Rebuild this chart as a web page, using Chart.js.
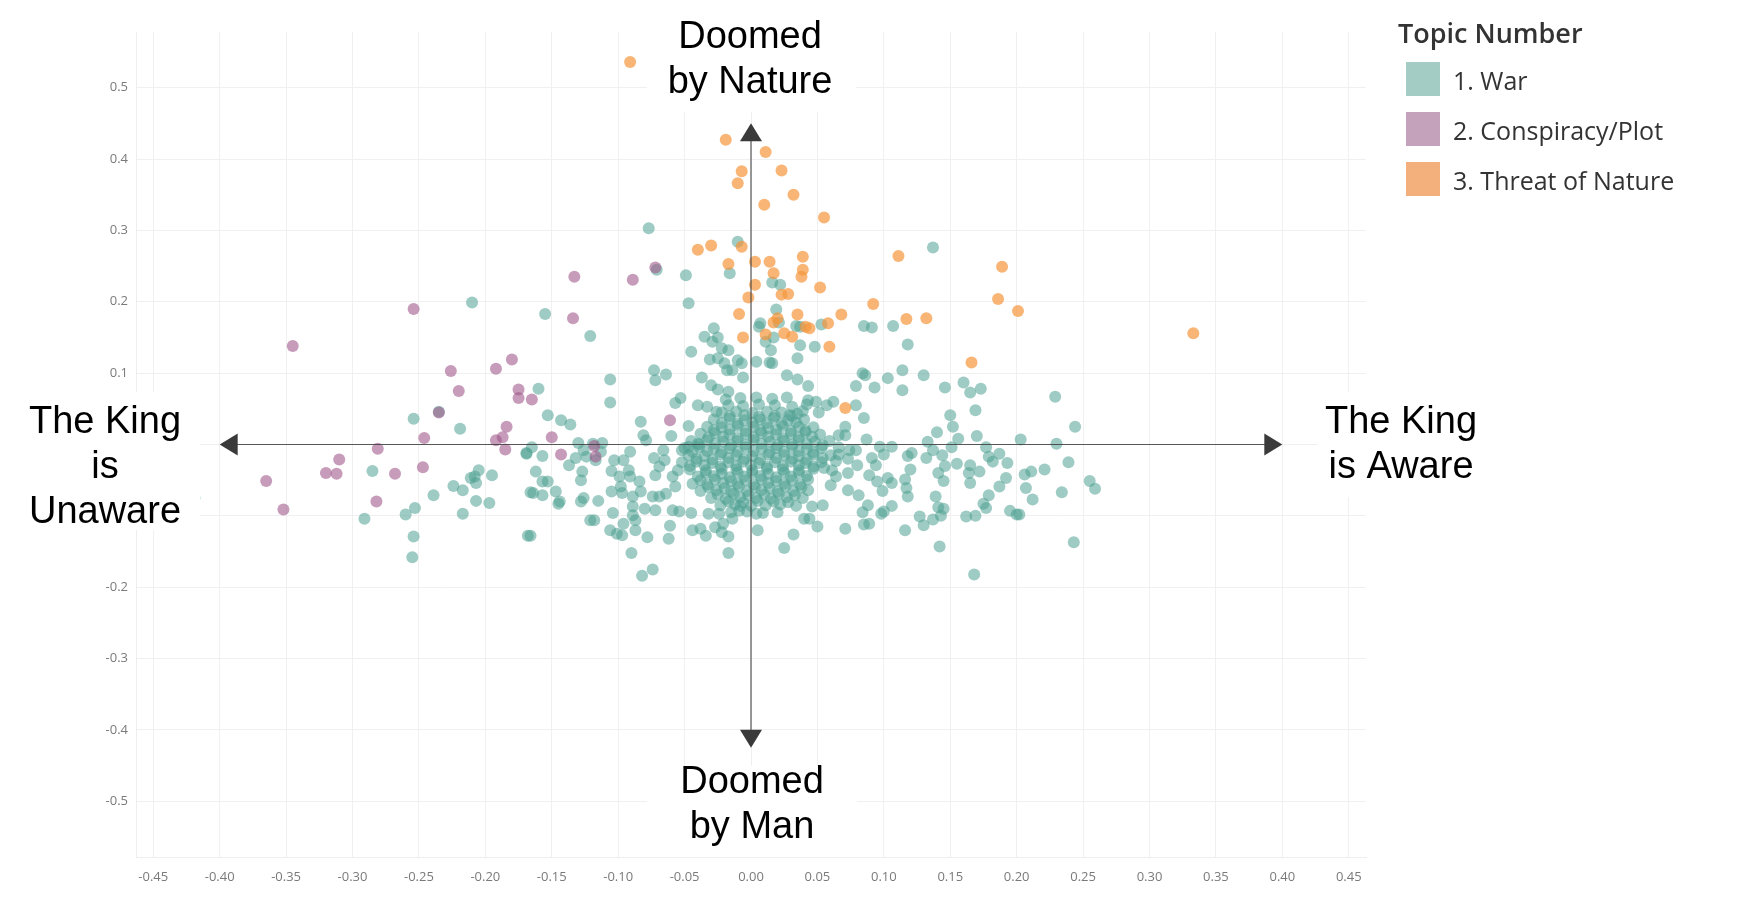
<!DOCTYPE html>
<html>
<head>
<meta charset="utf-8">
<script src="https://cdn.jsdelivr.net/npm/chart.js@4.4.1/dist/chart.umd.min.js"></script>
<style>
  html, body { margin: 0; padding: 0; background: #fff; }
  canvas { display: block; }
</style>
</head>
<body>
<canvas id="grafico" width="1739" height="906"></canvas>
<script>
const topics = ["1. War", "2. Conspiracy/Plot", "3. Threat of Nature"];
const legendTitle = "Topic Number";
const xTicks = [-0.45, -0.40, -0.35, -0.30, -0.25, -0.20, -0.15, -0.10, -0.05, 0, 0.05, 0.10, 0.15, 0.20, 0.25, 0.30, 0.35, 0.40, 0.45];
const yTicks = [-0.5, -0.4, -0.3, -0.2, -0.1, 0, 0.1, 0.2, 0.3, 0.4, 0.5];

// topic 1, outer points
const warPoints = [
  [-0.210,0.199],[-0.254,0.036],[-0.235,0.046],[-0.219,0.022],[-0.419,-0.075],[-0.285,-0.037],[-0.291,-0.104],
  [-0.260,-0.098],[-0.253,-0.089],[-0.254,-0.129],[-0.255,-0.158],[-0.239,-0.071],[-0.224,-0.058],[-0.217,-0.064],
  [-0.217,-0.097],[-0.211,-0.047],[-0.208,-0.045],[-0.205,-0.036],[-0.207,-0.054],[-0.207,-0.079],[-0.195,-0.043],
  [-0.197,-0.082],[-0.169,-0.013],[-0.166,-0.067],[-0.168,-0.128],
  [-0.077,0.303],[-0.010,0.284],[-0.016,0.240],[-0.071,0.245],[-0.049,0.237],[-0.047,0.198],[-0.155,0.183],
  [-0.121,0.152],[0.007,0.170],[0.006,0.165],[-0.028,0.163],[-0.035,0.151],[-0.025,0.150],[-0.029,0.144],
  [-0.022,0.135],[-0.017,0.132],[-0.045,0.130],
  [0.137,0.276],[0.016,0.227],[0.022,0.224],[0.019,0.189],[0.021,0.171],[0.034,0.166],[0.037,0.165],[0.053,0.168],
  [0.085,0.166],[0.091,0.164],[0.107,0.166],[0.118,0.140],[0.048,0.137],[0.037,0.139],[0.017,0.150],[0.011,0.144],
  [0.015,0.132],[0.035,0.121],
  [-0.106,0.091],[-0.106,0.059],[-0.160,0.078],[-0.073,0.104],[-0.072,0.090],[-0.064,0.098],[-0.037,0.094],
  [-0.153,0.041],[-0.143,0.034],[-0.136,0.028],[-0.057,0.058],[-0.053,0.065],[-0.083,0.032],[-0.047,0.026],
  [-0.060,0.012],[-0.081,0.013],[-0.079,0.006],[-0.130,0.002],[-0.119,0.001],[-0.112,0.002],[-0.165,-0.004],
  [-0.169,-0.012],[-0.157,-0.016],[-0.132,-0.019],[-0.124,-0.017],[-0.117,-0.022],[-0.137,-0.029],[-0.126,-0.008],
  [-0.113,-0.010],[-0.091,-0.010],[-0.103,-0.022],[-0.096,-0.022],[-0.162,-0.038],[-0.127,-0.038],[-0.128,-0.050],
  [-0.105,-0.037],[-0.099,-0.045],[-0.092,-0.036],[-0.091,-0.045],[-0.157,-0.052],[-0.153,-0.052],[-0.147,-0.066],
  [-0.164,-0.068],[-0.157,-0.071],[-0.144,-0.080],[-0.145,-0.083],[-0.128,-0.080],[-0.126,-0.075],[-0.115,-0.079],
  [-0.105,-0.066],[-0.098,-0.059],[-0.097,-0.068],[-0.084,-0.052],[-0.083,-0.066],[-0.089,-0.073],[-0.104,-0.096],
  [-0.121,-0.106],[-0.118,-0.106],[-0.089,-0.087],[-0.089,-0.099],[-0.087,-0.106],[-0.087,-0.120],[-0.096,-0.111],
  [-0.106,-0.120],[-0.101,-0.125],[-0.097,-0.127],[-0.166,-0.128],[-0.090,-0.152],[-0.078,-0.130],[-0.082,-0.184],
  [-0.074,-0.175],[-0.062,-0.132],[-0.061,-0.114],[-0.080,-0.090],[-0.072,-0.092],[-0.074,-0.073],[-0.069,-0.073],
  [-0.064,-0.069],[-0.072,-0.043],[-0.069,-0.031],[-0.065,-0.022],[-0.073,-0.019],[-0.066,-0.008],[-0.059,-0.045],
  [-0.055,-0.036],[-0.057,-0.059],[-0.059,-0.092],[-0.054,-0.094],[-0.045,-0.096],[-0.044,-0.120],[-0.038,-0.118],
  [-0.034,-0.128],[-0.027,-0.116],[-0.022,-0.123],[-0.017,-0.129],[-0.021,-0.111],[-0.017,-0.152],[-0.032,-0.097],
  [-0.024,-0.097],[-0.014,-0.104],[-0.009,-0.093],[-0.008,-0.086],[0.004,-0.097],[0.005,-0.120],[-0.052,-0.008],
  [-0.047,-0.003],[-0.040,0.001],[-0.040,0.055],[-0.033,0.053],[-0.026,0.046],[-0.019,0.063],[-0.031,0.119],
  [-0.025,0.121],[-0.020,0.114],[-0.018,0.104],[-0.014,0.104],[-0.010,0.118],[-0.007,0.114],[-0.030,0.083],
  [-0.025,0.077],[-0.017,0.074],[-0.006,0.094],[0.004,0.116],
  [0.014,0.115],[0.016,0.114],[0.027,0.097],[0.035,0.091],[0.043,0.082],[0.084,0.100],[0.086,0.097],[0.079,0.082],
  [0.093,0.080],[0.103,0.093],[0.114,0.104],[0.114,0.076],[0.130,0.097],[0.146,0.080],[0.160,0.087],[0.165,0.073],
  [0.173,0.078],[0.169,0.048],[0.150,0.041],[0.152,0.025],[0.140,0.017],[0.170,0.012],[0.156,0.008],[0.133,0.004],
  [0.229,0.067],[0.244,0.025],[0.203,0.007],[0.230,0.001],[0.239,-0.025],[0.255,-0.051],[0.259,-0.062],[0.234,-0.067],
  [0.243,-0.137],[0.221,-0.035],[0.206,-0.042],[0.211,-0.038],[0.207,-0.061],[0.212,-0.077],[0.195,-0.093],
  [0.200,-0.098],[0.202,-0.098],[0.192,-0.047],[0.187,-0.059],[0.193,-0.026],[0.187,-0.013],[0.182,-0.024],
  [0.179,-0.017],[0.177,-0.004],[0.179,-0.071],[0.175,-0.083],[0.177,-0.089],[0.169,-0.100],[0.162,-0.101],
  [0.172,-0.038],[0.164,-0.040],[0.165,-0.054],[0.165,-0.029],[0.155,-0.027],[0.146,-0.030],[0.141,-0.040],
  [0.145,-0.051],[0.144,-0.015],[0.137,-0.008],[0.132,-0.019],[0.151,-0.004],[0.139,-0.073],[0.141,-0.088],
  [0.145,-0.090],[0.143,-0.100],[0.137,-0.105],[0.130,-0.113],[0.127,-0.101],[0.142,-0.143],[0.168,-0.182],
  [0.116,-0.120],[0.120,-0.035],[0.116,-0.049],[0.117,-0.061],[0.118,-0.073],[0.118,-0.016],[0.121,-0.012],
  [0.106,-0.003],[0.100,-0.014],[0.097,-0.003],[0.091,-0.019],[0.094,-0.029],[0.089,-0.043],[0.095,-0.052],
  [0.103,-0.047],[0.106,-0.054],[0.099,-0.065],[0.106,-0.086],[0.100,-0.094],[0.098,-0.097],[0.088,-0.085],
  [0.084,-0.095],[0.089,-0.111],[0.085,-0.112],[0.071,-0.118],[0.081,-0.071],[0.073,-0.064],[0.050,-0.115],
  [0.032,-0.126],[0.025,-0.145],[0.054,-0.085],[0.046,-0.087],[0.044,-0.104],[0.040,-0.104],[0.087,0.007],
  [0.085,0.037],[0.079,0.055],[0.062,0.060],[0.049,0.060],[0.043,0.062],[0.057,0.055],[0.051,0.045],[0.071,0.025],
  [0.066,0.013],[0.071,0.013],[0.031,0.040],[0.039,0.047],[0.066,-0.014],[0.074,-0.008],[0.064,-0.023],
  [0.073,-0.020],[0.079,-0.008],[0.080,-0.029],[0.055,-0.033],[0.061,-0.036],[0.064,-0.045],[0.073,-0.040],
  [0.060,-0.057]
];

// topic 1, the dense cluster round the origin (estimated, points overlap)
const warCore = [
  [-0.008,0.065],[0.004,0.066],[0.016,0.064],[0.027,0.066],
  [-0.017,0.055],[-0.006,0.054],[0.006,0.056],[0.018,0.055],[0.031,0.053],[0.042,0.056],
  [-0.022,0.045],[-0.011,0.046],[0.001,0.044],[0.012,0.046],[0.023,0.045],[0.035,0.043],
  [-0.028,0.035],[-0.016,0.036],[-0.005,0.034],[0.007,0.035],[0.017,0.037],[0.028,0.034],[0.040,0.035],
  [-0.033,0.025],[-0.022,0.024],[-0.010,0.026],[0.002,0.025],[0.013,0.023],[0.024,0.026],[0.036,0.025],[0.047,0.024],
  [-0.038,0.015],[-0.027,0.016],[-0.016,0.014],[-0.004,0.015],[0.008,0.016],[0.019,0.014],[0.030,0.015],[0.041,0.017],[0.052,0.014],
  [-0.045,0.005],[-0.033,0.006],[-0.021,0.004],[-0.010,0.005],[0.002,0.006],[0.014,0.004],[0.025,0.005],[0.036,0.006],[0.048,0.004],[0.059,0.005],
  [-0.050,-0.005],[-0.039,-0.004],[-0.028,-0.006],[-0.016,-0.005],[-0.004,-0.004],[0.008,-0.006],[0.019,-0.005],[0.031,-0.004],[0.042,-0.006],[0.053,-0.005],[0.066,-0.004],
  [-0.047,-0.015],[-0.035,-0.016],[-0.023,-0.014],[-0.011,-0.015],[0.001,-0.016],[0.013,-0.014],[0.025,-0.015],[0.036,-0.016],[0.047,-0.014],[0.060,-0.015],
  [-0.052,-0.025],[-0.041,-0.024],[-0.029,-0.026],[-0.017,-0.025],[-0.006,-0.024],[0.006,-0.026],[0.018,-0.025],[0.030,-0.024],[0.041,-0.026],[0.053,-0.025],
  [-0.046,-0.035],[-0.034,-0.036],[-0.022,-0.034],[-0.011,-0.035],[0.001,-0.036],[0.012,-0.034],[0.024,-0.035],[0.036,-0.036],[0.047,-0.034],
  [-0.040,-0.045],[-0.028,-0.044],[-0.016,-0.046],[-0.005,-0.045],[0.007,-0.044],[0.019,-0.046],[0.030,-0.045],[0.042,-0.044],
  [-0.044,-0.055],[-0.033,-0.056],[-0.021,-0.054],[-0.010,-0.055],[0.002,-0.056],[0.013,-0.054],[0.025,-0.055],[0.037,-0.056],
  [-0.038,-0.065],[-0.026,-0.064],[-0.015,-0.066],[-0.003,-0.065],[0.008,-0.064],[0.020,-0.066],[0.032,-0.065],[0.043,-0.064],
  [-0.030,-0.075],[-0.019,-0.076],[-0.008,-0.074],[0.004,-0.075],[0.015,-0.076],[0.027,-0.074],[0.039,-0.075],
  [-0.023,-0.085],[-0.012,-0.084],[0.000,-0.086],[0.011,-0.085],[0.022,-0.084],[0.034,-0.086],
  [-0.015,-0.095],[-0.003,-0.094],[0.009,-0.096],[0.020,-0.095]
];

// topic 1, the thickest part of that cluster, between the rows above
const warCoreInner = [
  [-0.016,0.040],[-0.005,0.041],[0.006,0.039],[0.018,0.040],[0.029,0.041],
  [-0.022,0.030],[-0.010,0.029],[0.001,0.031],[0.012,0.030],[0.023,0.029],[0.034,0.031],
  [-0.028,0.020],[-0.016,0.021],[-0.004,0.019],[0.007,0.020],[0.019,0.021],[0.030,0.019],[0.041,0.020],
  [-0.032,0.010],[-0.021,0.011],[-0.010,0.009],[0.002,0.010],[0.013,0.011],[0.024,0.009],[0.036,0.010],[0.046,0.011],
  [-0.039,0.000],[-0.027,0.001],[-0.015,-0.001],[-0.004,0.000],[0.008,0.001],[0.020,-0.001],[0.031,0.000],[0.042,0.001],[0.054,-0.001],
  [-0.044,-0.010],[-0.033,-0.009],[-0.022,-0.011],[-0.010,-0.010],[0.002,-0.009],[0.014,-0.011],[0.025,-0.010],[0.036,-0.009],[0.047,-0.011],
  [-0.041,-0.020],[-0.029,-0.021],[-0.017,-0.019],[-0.005,-0.020],[0.007,-0.021],[0.019,-0.019],[0.031,-0.020],[0.042,-0.021],[0.054,-0.019],
  [-0.046,-0.030],[-0.035,-0.029],[-0.023,-0.031],[-0.011,-0.030],[0.000,-0.029],[0.012,-0.031],[0.024,-0.030],[0.036,-0.029],[0.047,-0.031],
  [-0.034,-0.040],[-0.022,-0.041],[-0.010,-0.039],[0.001,-0.040],[0.013,-0.041],[0.025,-0.039],[0.036,-0.040],
  [-0.038,-0.050],[-0.027,-0.049],[-0.015,-0.051],[-0.004,-0.050],[0.008,-0.049],[0.019,-0.051],[0.031,-0.050],[0.043,-0.049],
  [-0.032,-0.060],[-0.020,-0.061],[-0.009,-0.059],[0.003,-0.060],[0.014,-0.061],[0.026,-0.059],[0.038,-0.060],
  [-0.025,-0.070],[-0.013,-0.069],[-0.002,-0.071],[0.010,-0.070],[0.021,-0.069],[0.033,-0.071],
  [-0.017,-0.080],[-0.006,-0.081],[0.005,-0.079],[0.017,-0.080],[0.028,-0.081]
];

const plotPoints = [
  [-0.254,0.190],[-0.345,0.138],[-0.226,0.103],[-0.192,0.106],[-0.180,0.119],[-0.220,0.075],[-0.175,0.077],
  [-0.175,0.065],[-0.235,0.045],[-0.184,0.025],[-0.187,0.010],[-0.192,0.006],[-0.185,-0.007],[-0.246,0.009],
  [-0.281,-0.006],[-0.310,-0.021],[-0.320,-0.040],[-0.312,-0.041],[-0.268,-0.041],[-0.247,-0.032],[-0.365,-0.051],
  [-0.352,-0.091],[-0.282,-0.080],[-0.165,0.063],[-0.133,0.235],[-0.089,0.231],[-0.134,0.177],[-0.072,0.248],
  [-0.150,0.010],[-0.143,-0.014],[-0.061,0.034],[-0.118,-0.002],[-0.117,-0.017]
];

const naturePoints = [
  [-0.091,0.536],[-0.019,0.427],[-0.007,0.383],[-0.010,0.366],[0.011,0.410],[0.010,0.336],[-0.040,0.273],
  [-0.030,0.279],[-0.007,0.277],[-0.017,0.253],[0.003,0.256],[0.014,0.256],[0.003,0.224],[-0.002,0.206],
  [-0.009,0.183],[-0.006,0.150],[0.011,0.154],[0.023,0.384],[0.032,0.350],[0.055,0.318],[0.111,0.264],
  [0.189,0.249],[0.186,0.204],[0.201,0.187],[0.333,0.156],[0.039,0.263],[0.039,0.245],[0.017,0.240],
  [0.038,0.235],[0.052,0.220],[0.023,0.210],[0.028,0.211],[0.092,0.197],[0.068,0.182],[0.035,0.182],
  [0.058,0.170],[0.117,0.176],[0.132,0.177],[0.020,0.177],[0.017,0.171],[0.041,0.165],[0.044,0.163],
  [0.025,0.156],[0.031,0.151],[0.059,0.137],[0.166,0.115],[0.071,0.051]
];

const pointColors = ["rgba(78, 160, 146, 0.55)", "rgba(160, 90, 140, 0.6)", "rgba(245, 150, 60, 0.7)"];
const legendColors = ["#a3ccc5", "#c5a2bb", "#f4b07c"];

function toXY(list) {
    return list.map(p => ({ x: p[0], y: p[1] }));
}

// arrows and quadrant labels drawn over the plot
const quadrantPlugin = {
    id: "quadrants",
    afterDatasetsDraw(chart) {
        const c = chart.ctx;
        const xs = chart.scales.x;
        const ys = chart.scales.y;
        const x0 = xs.getPixelForValue(0);
        const y0 = ys.getPixelForValue(0);
        const left = xs.getPixelForValue(-0.40);
        const right = xs.getPixelForValue(0.40);
        const top = ys.getPixelForValue(0.45);
        const bottom = ys.getPixelForValue(-0.425);
        c.save();
        c.strokeStyle = "rgba(60,60,60,0.85)";
        c.lineWidth = 1.2;
        c.beginPath();
        c.moveTo(left + 10, y0); c.lineTo(right - 10, y0);
        c.moveTo(x0, top + 10); c.lineTo(x0, bottom - 10);
        c.stroke();
        c.fillStyle = "#3a3a3a";
        const L = 18, W = 11;
        c.beginPath(); c.moveTo(left, y0); c.lineTo(left + L, y0 - W); c.lineTo(left + L, y0 + W); c.closePath(); c.fill();
        c.beginPath(); c.moveTo(right, y0); c.lineTo(right - L, y0 - W); c.lineTo(right - L, y0 + W); c.closePath(); c.fill();
        c.beginPath(); c.moveTo(x0, top); c.lineTo(x0 - W, top + L); c.lineTo(x0 + W, top + L); c.closePath(); c.fill();
        c.beginPath(); c.moveTo(x0, bottom); c.lineTo(x0 - W, bottom - L); c.lineTo(x0 + W, bottom - L); c.closePath(); c.fill();
        c.restore();
    },
    afterDraw(chart) {
        const c = chart.ctx;
        const boxes = [
            { x: 647, y: 8, w: 209, h: 104, cx: 750, lines: ["Doomed", "by Nature"], base: 48 },
            { x: 647, y: 766, w: 210, h: 91, cx: 752, lines: ["Doomed", "by Man"], base: 793 },
            { x: 18, y: 392, w: 182, h: 138, cx: 105, lines: ["The King", "is", "Unaware"], base: 433 },
            { x: 1318, y: 392, w: 170, h: 105, cx: 1401, lines: ["The King", "is Aware"], base: 433 }
        ];
        c.save();
        c.font = "38px 'Liberation Sans', Arial, sans-serif";
        c.textAlign = "center";
        c.textBaseline = "alphabetic";
        boxes.forEach(b => {
            c.fillStyle = "#ffffff";
            c.fillRect(b.x, b.y, b.w, b.h);
            c.fillStyle = "#000000";
            b.lines.forEach((t, i) => c.fillText(t, b.cx, b.base + i * 45));
        });

        // legend
        c.textAlign = "left";
        c.fillStyle = "#333333";
        c.font = "600 27px 'Open Sans', sans-serif";
        c.fillText(legendTitle, 1398, 43);
        c.font = "25px 'Open Sans', sans-serif";
        topics.forEach((t, i) => {
            c.fillStyle = legendColors[i];
            c.fillRect(1406, 62 + i * 50, 34, 34);
            c.fillStyle = "#333333";
            c.fillText(t, 1453, 90 + i * 50);
        });
        c.restore();
    }
};

const ctx = document.getElementById("grafico");

new Chart(ctx, {
    type: "scatter",
    data: {
        datasets: [
            {
                label: topics[0],
                data: toXY(warPoints.concat(warCore, warCoreInner)),
                backgroundColor: pointColors[0],
                borderWidth: 0,
                order: 3,
            },
            {
                label: topics[1],
                data: toXY(plotPoints),
                backgroundColor: pointColors[1],
                borderWidth: 0,
                order: 2,
            },
            {
                label: topics[2],
                data: toXY(naturePoints),
                backgroundColor: pointColors[2],
                borderWidth: 0,
                order: 1,
            },
        ],
    },
    options: {
        responsive: false,
        animation: false,
        devicePixelRatio: 1,
        elements: {
            point: {
                radius: 6,
                hoverRadius: 6,
            },
        },
        layout: {
            padding: { left: 0, top: 32, right: 373, bottom: 0 },
        },
        plugins: {
            legend: { display: false },
            tooltip: { enabled: false },
        },
        scales: {
            x: {
                type: "linear",
                min: -0.463,
                max: 0.463,
                afterFit: s => { s.height = 49; },
                afterBuildTicks: s => { s.ticks = xTicks.map(v => ({ value: v })); },
                grid: { color: "#f0f0f0", drawTicks: false },
                border: { color: "#eeeeee" },
                ticks: {
                    padding: 12,
                    color: "#7a7a7a",
                    font: { family: "'Open Sans', sans-serif", size: 13 },
                    callback: v => v.toFixed(2),
                    maxRotation: 0,
                    autoSkip: false,
                },
            },
            y: {
                type: "linear",
                min: -0.578,
                max: 0.578,
                afterFit: s => { s.width = 136; },
                afterBuildTicks: s => { s.ticks = yTicks.map(v => ({ value: v })); },
                grid: { color: "#f0f0f0", drawTicks: false },
                border: { color: "#eeeeee" },
                ticks: {
                    padding: 8,
                    color: "#7a7a7a",
                    font: { family: "'Open Sans', sans-serif", size: 13 },
                    callback: v => v.toFixed(1),
                    autoSkip: false,
                },
            },
        },
    },
    plugins: [quadrantPlugin],
});
</script>
</body>
</html>
